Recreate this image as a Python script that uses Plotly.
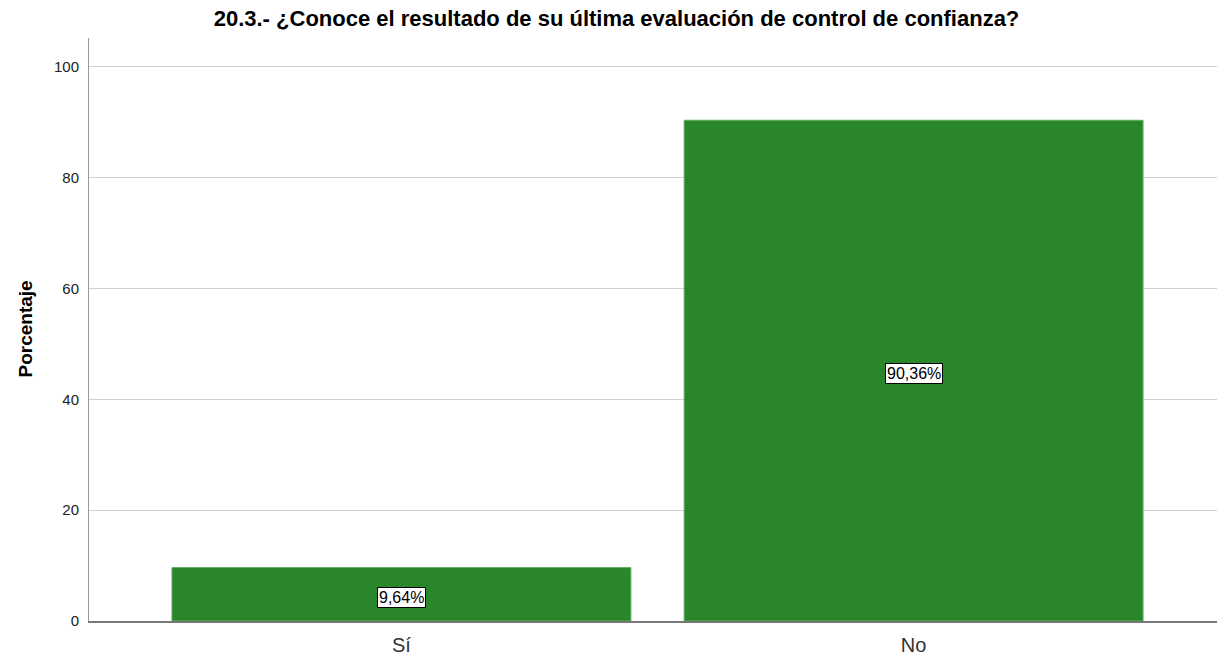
import plotly.graph_objects as go

categories = ["Sí", "No"]
values = [9.64, 90.36]
labels = ["9,64%", "90,36%"]
title = "20.3.- ¿Conoce el resultado de su última evaluación de control de confianza?"
y_title = "Porcentaje"
y_ticks = [0, 20, 40, 60, 80, 100]

FONT = "Liberation Sans, Arial, sans-serif"
W, H = 1217, 652
L, R, T, B = 81, 0, 30, 39
plot_w = W - L - R

fig = go.Figure()
fig.add_trace(go.Bar(
    x=categories, y=values,
    marker=dict(color="#2a862a", line=dict(color="#5fae5f", width=1)),
    width=0.896,
    hoverinfo="skip",
))

for c, v, t in zip(categories, values, labels):
    fig.add_annotation(
        x=c, y=v / 2, text=t, showarrow=False, yshift=-3,
        font=dict(family=FONT, size=16, color="#000"),
        bgcolor="white", bordercolor="black", borderwidth=1, borderpad=1,
    )

fig.add_annotation(
    xref="paper", yref="paper", x=(17 - L) / plot_w, y=0.5,
    text="<b>" + y_title + "</b>", textangle=-90, showarrow=False,
    xanchor="center", yanchor="middle",
    font=dict(family=FONT, size=19, color="#000"),
)

fig.update_layout(
    width=W, height=H,
    margin=dict(l=L, r=R, t=T, b=B, autoexpand=False),
    paper_bgcolor="white", plot_bgcolor="white",
    showlegend=False,
    title=dict(text="<b>" + title + "</b>", x=0.5, xanchor="center",
               y=1 - 3 / H, yanchor="top", pad=dict(t=0),
               font=dict(family=FONT, size=22, color="#000")),
    font=dict(family=FONT),
)
fig.update_xaxes(
    range=[-0.610, 1.608],
    showline=True, linecolor="#777", linewidth=2,
    tickfont=dict(size=20, color="#333"),
    ticks="outside", ticklen=5, tickcolor="rgba(0,0,0,0)",
    showgrid=False, zeroline=False, automargin=False,
)
fig.update_yaxes(
    range=[0, 105.2], tickvals=y_ticks,
    showline=True, linecolor="#999", linewidth=1,
    showgrid=True, gridcolor="#d0d0d0", gridwidth=1,
    zeroline=False, ticks="outside", ticklen=6, tickcolor="rgba(0,0,0,0)",
    tickfont=dict(size=15, color="#222"), automargin=False,
)

fig.write_html("out.html")
